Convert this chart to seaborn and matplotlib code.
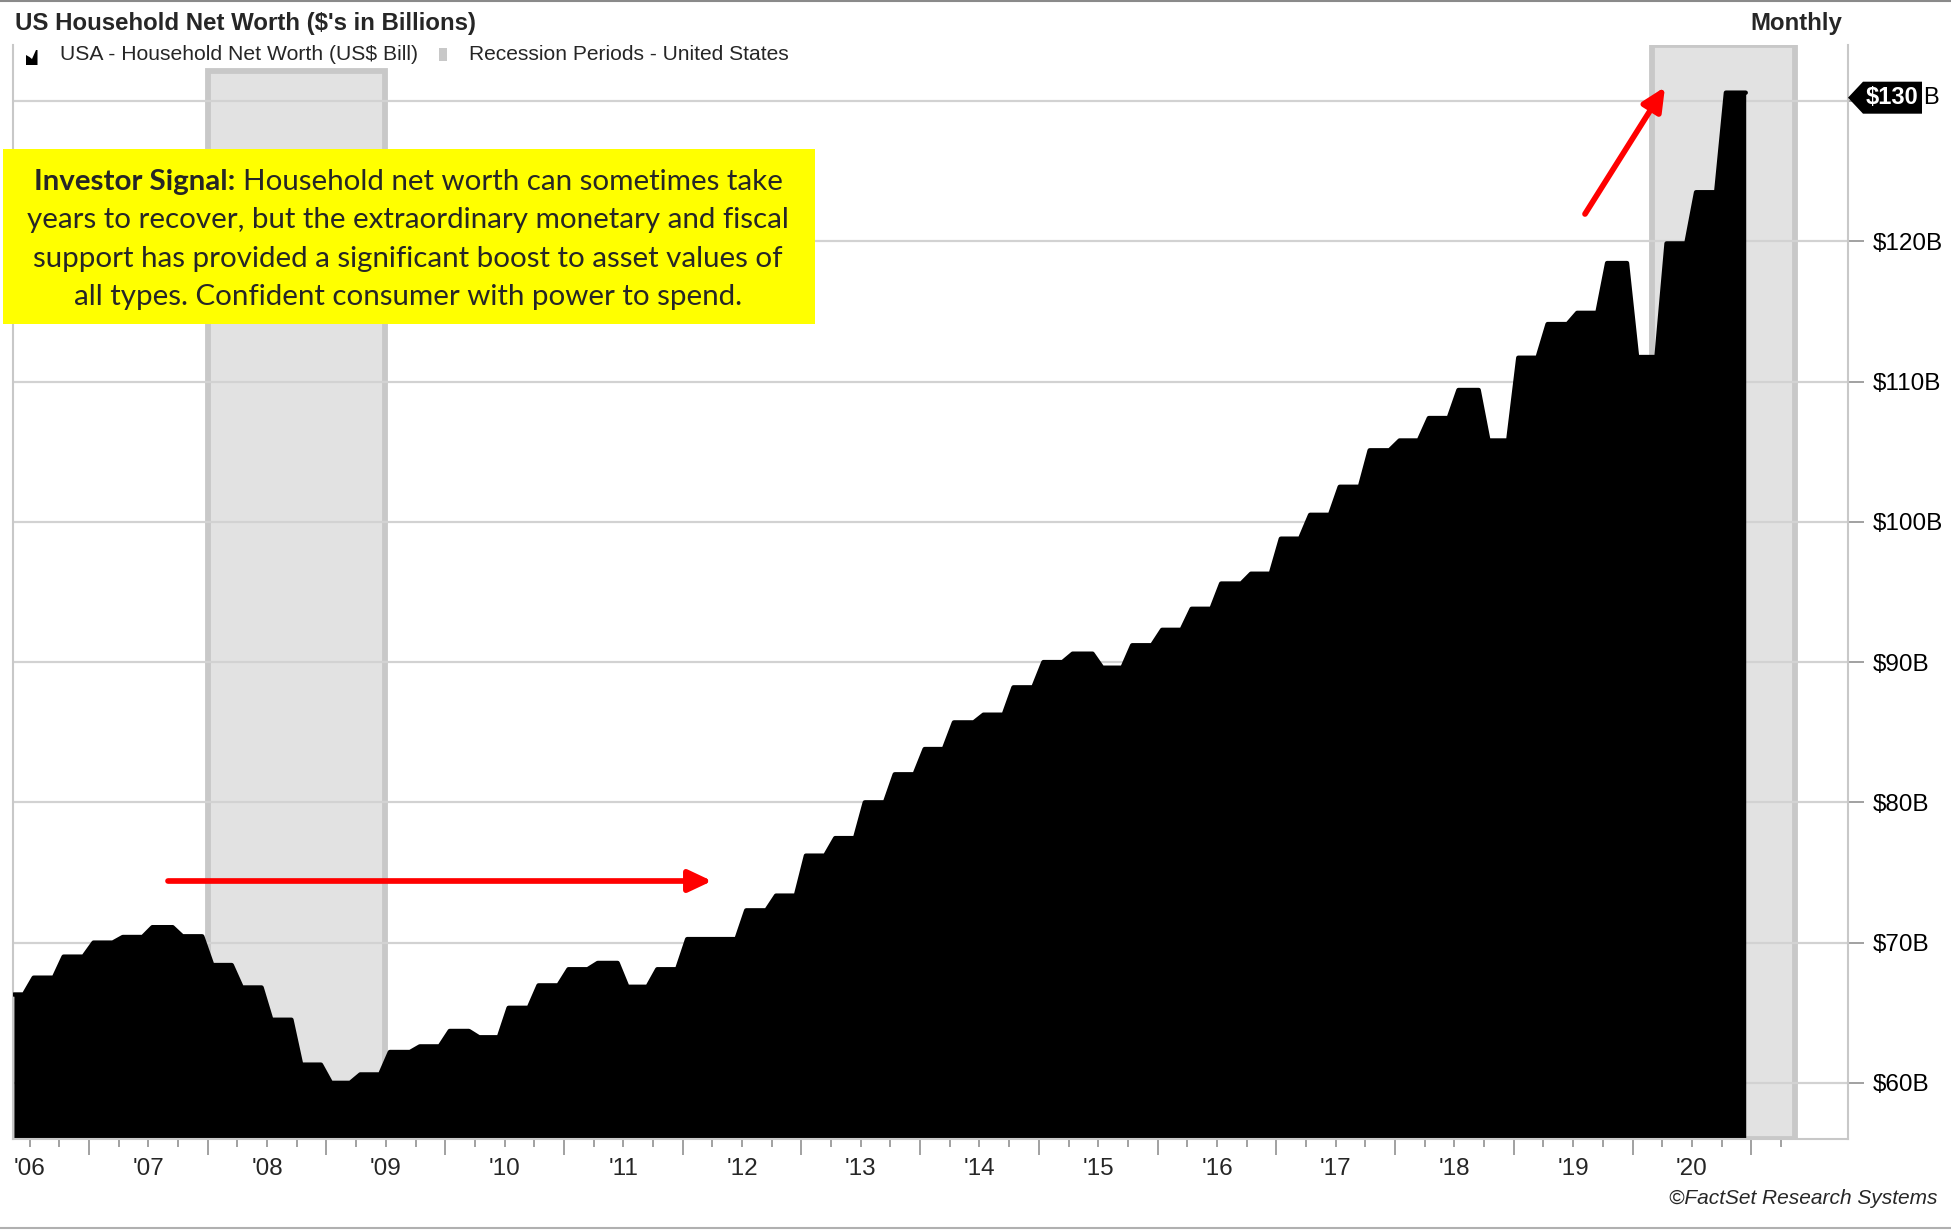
import numpy as np
import pandas as pd
import matplotlib
matplotlib.use('Agg')
import matplotlib.pyplot as plt
import seaborn as sns
from matplotlib.patches import Polygon, Rectangle

# ---------------- data ----------------
first_quarter = '2006Q2'
last_quarter = '2020Q4'
data_start = '2006-05-01'
net_worth = [66.3, 67.5, 69.0,
             70.0, 70.4, 71.1, 70.45,
             68.4, 66.8, 64.5, 61.3,
             60.0, 60.6, 62.2, 62.6,
             63.7, 63.25, 65.35, 66.95,
             68.1, 68.55, 66.85, 68.1,
             70.25, 70.25, 72.3, 73.35,
             76.2, 77.45, 80.0, 82.0,
             83.8, 85.7, 86.25, 88.2,
             90.0, 90.6, 89.6, 91.2,
             92.3, 93.8, 95.6, 96.3,
             98.8, 100.5, 102.5, 105.1,
             105.8, 107.4, 109.4, 105.8,
             111.7, 114.1, 114.9, 118.45,
             111.75, 119.85, 123.5, 130.6]
recession_start = ['2008-01-01', '2020-03-01']
recession_end = ['2009-07-01', '2021-05-17']
y_ticks = [60, 70, 80, 90, 100, 110, 120, 130]
year_labels = ["'06", "'07", "'08", "'09", "'10", "'11", "'12", "'13",
               "'14", "'15", "'16", "'17", "'18", "'19", "'20"]
label_years = list(range(2006, 2021))
tag_text = '$130'
plot_day = 15  # monthly observations are plotted mid-month


def dec(ts):
    ts = pd.Timestamp(ts)
    days = 366 if ts.is_leap_year else 365
    return ts.year + (ts.dayofyear - 1) / days


# monthly table built from quarterly values (each quarter held for its 3 months)
quarters = pd.period_range(first_quarter, last_quarter, freq='Q')
rows = []
for p, v in zip(quarters, net_worth):
    m0 = p.asfreq('M', 'start')
    for k in range(3):
        mt = (m0 + k).to_timestamp()
        if mt >= pd.Timestamp(data_start):
            rows.append({'t': dec(mt + pd.Timedelta(days=plot_day - 1)), 'value': v})
df = pd.DataFrame(rows)

# ---------------- figure ----------------
sns.set_style('white')
plt.rcParams['font.family'] = ['Liberation Sans', 'DejaVu Sans']

W, H = 1951, 1230
fig = plt.figure(figsize=(W / 100, H / 100), dpi=100)
ax = fig.add_axes([13 / W, (H - 1139) / H, (1848 - 13) / W, (1139 - 45) / H])
XMIN, XMAX = 2006.36, 2021.815
YMIN, YMAX = 56, 134

band_tops = [(1139 - 71) / (1139 - 45), 1.0]
for s, e, top in zip(recession_start, recession_end, band_tops):
    ax.axvspan(dec(s), dec(e), ymin=0, ymax=top, facecolor='#e2e2e2',
               edgecolor='#c8c8c8', linewidth=4.2, zorder=0.2)

ax.set_axisbelow(True)
ax.yaxis.grid(True, color='#d2d2d2', linewidth=1.6)
ax.xaxis.grid(False)

ax.fill_between(df['t'], df['value'], YMIN, color='black', linewidth=0, zorder=2.5)
sns.lineplot(data=df, x='t', y='value', ax=ax, color='black', linewidth=3.2,
             estimator=None, zorder=3)
ln = ax.get_lines()[-1]
ln.set_solid_joinstyle('round')
ln.set_solid_capstyle('round')

ax.set_xlim(XMIN, XMAX)
ax.set_ylim(YMIN, YMAX)
ax.set_xlabel('')
ax.set_ylabel('')

for side in ['left', 'right', 'bottom']:
    ax.spines[side].set_visible(True)
    ax.spines[side].set_color('#c8c8c8')
    ax.spines[side].set_linewidth(1.5)
ax.spines['top'].set_visible(False)

# y axis on the right
ax.yaxis.tick_right()
ax.set_yticks(y_ticks)
ax.set_yticklabels([f'${v}B' if v != 130 else '' for v in y_ticks])
ax.tick_params(axis='y', which='major', length=11.5, width=1.3, color='#9a9a9a',
               pad=6, labelsize=17.5, labelcolor='black', left=False, right=True)

# x axis: year ticks long, quarter ticks short, labels mid-year
year_ticks = [y for y in range(2007, 2022)]
q_ticks = [y + q / 4 for y in range(2006, 2022) for q in (1, 2, 3)
           if XMIN < y + q / 4 <= 2021.3]
ax.set_xticks(year_ticks)
ax.set_xticklabels([])
ax.set_xticks(q_ticks, minor=True)
ax.tick_params(axis='x', which='major', length=11.5, width=1.3, color='#9a9a9a',
               bottom=True)
ax.tick_params(axis='x', which='minor', length=6, width=1.3, color='#9a9a9a',
               bottom=True)
sec = ax.secondary_xaxis('bottom')
sec.set_xticks([y + 0.5 for y in label_years])
sec.set_xticklabels(year_labels)
sec.tick_params(axis='x', length=0, pad=14, labelsize=17.5)
sec.spines['bottom'].set_visible(False)

# ---------------- texts ----------------
def fy(py):
    return 1 - py / H


title = fig.text(15 / W, fy(23.5), "US Household Net Worth ($'s in Billions)",
                 fontsize=15, fontweight='bold', va='center', ha='left')
monthly = fig.text(1842 / W, fy(23.5), 'Monthly', fontsize=15, fontweight='bold',
                   va='center', ha='right')
leg1 = fig.text(60 / W, fy(54), 'USA - Household Net Worth (US$ Bill)',
                fontsize=14, va='center', ha='left')
leg2 = fig.text(469 / W, fy(54), 'Recession Periods - United States',
                fontsize=14, va='center', ha='left')
footer = fig.text(1937 / W, fy(1198), '\u00a9FactSet Research Systems',
                  fontsize=14, style='italic', va='center', ha='right')

# legend icons
icon = Polygon([(26 / W, fy(65)), (26 / W, fy(55)), (29.5 / W, fy(57)), (32 / W, fy(59)),
                (36 / W, fy(50)), (37.5 / W, fy(50)), (37.5 / W, fy(65))],
               closed=True, transform=fig.transFigure, facecolor='black', edgecolor='none')
fig.patches.append(icon)
fig.patches.append(Rectangle((439 / W, fy(61)), 8 / W, 13 / H, transform=fig.transFigure,
                             facecolor='#c8c8c8', edgecolor='none'))

# yellow annotation box
fig.patches.append(Rectangle((2.5 / W, fy(324)), (815 - 2.5) / W, (324 - 149) / H,
                             transform=fig.transFigure, facecolor='#ffff00',
                             edgecolor='none', zorder=5))
box_font = ['Lato', 'DejaVu Sans']
lines = ['years to recover, but the extraordinary monetary and fiscal',
         'support has provided a significant boost to asset values of',
         'all types. Confident consumer with power to spend.']
line_y = [220.5, 258.5, 296.5]
box_texts = [fig.text(408 / W, fy(yy), s, family=box_font, fontsize=22, ha='center',
                      va='center', zorder=6) for s, yy in zip(lines, line_y)]
b1 = fig.text(0, fy(182), 'Investor Signal:', family=box_font, fontsize=22,
              fontweight='bold', ha='left', va='center', zorder=6)
n1 = fig.text(0, fy(182), 'Household net worth can sometimes take', family=box_font,
              fontsize=22, ha='left', va='center', zorder=6)

fig.canvas.draw()
r = fig.canvas.get_renderer()


def fit(t, w):
    for _ in range(3):
        bb = t.get_window_extent(renderer=r)
        t.set_fontsize(t.get_fontsize() * w / bb.width)


fit(title, 462)
fit(monthly, 92)
fit(leg1, 358)
fit(leg2, 320)
fit(footer, 267)
fit(box_texts[0], 759)
fs = box_texts[0].get_fontsize()
for t in box_texts + [b1, n1]:
    t.set_fontsize(fs)
sp = fig.text(0, 0, 'a a', family=box_font, fontsize=fs)
sp2 = fig.text(0, 0, 'aa', family=box_font, fontsize=fs)
space_w = sp.get_window_extent(r).width - sp2.get_window_extent(r).width
sp.remove()
sp2.remove()
wb = b1.get_window_extent(r).width
wn = n1.get_window_extent(r).width
x0 = 408 - (wb + space_w + wn) / 2
b1.set_x(x0 / W)
n1.set_x((x0 + wb + space_w) / W)

# arrows
arrow_kw = dict(arrowstyle='-|>,head_length=0.7,head_width=0.33', color='#ff0000',
                lw=4.1, mutation_scale=20, shrinkA=0, shrinkB=0)
ax.annotate('', xy=(712, H - 881), xycoords='figure pixels',
            xytext=(168, H - 881), textcoords='figure pixels',
            arrowprops=arrow_kw, zorder=7, annotation_clip=False)
ax.annotate('', xy=(1665, H - 87), xycoords='figure pixels',
            xytext=(1585, H - 214), textcoords='figure pixels',
            arrowprops=arrow_kw, zorder=7, annotation_clip=False)

# last value tag
px, py = ax.transData.transform((XMAX, net_worth[-1]))
py = py - 5
tag = Polygon([(px / W, py / H), ((px + 15) / W, (py + 16) / H), (1922 / W, (py + 16) / H),
               (1922 / W, (py - 16) / H), ((px + 15) / W, (py - 16) / H)], closed=True,
              transform=fig.transFigure, facecolor='black', edgecolor='none', zorder=8)
fig.patches.append(tag)
fig.text(1892 / W, py / H, tag_text, color='white', fontweight='bold', fontsize=17,
         ha='center', va='center', zorder=9)
fig.text(1923 / W, py / H, 'B', color='black', fontsize=17, ha='left', va='center',
         zorder=9)

# frame lines of the image
fig.add_artist(plt.Line2D([0, 1], [fy(1), fy(1)], transform=fig.transFigure,
                          color='#8a8a8a', linewidth=1.5))
fig.add_artist(plt.Line2D([0, 1], [fy(1228), fy(1228)], transform=fig.transFigure,
                          color='#b0b0b0', linewidth=1.5))

fig.savefig('out.png', dpi=100)
